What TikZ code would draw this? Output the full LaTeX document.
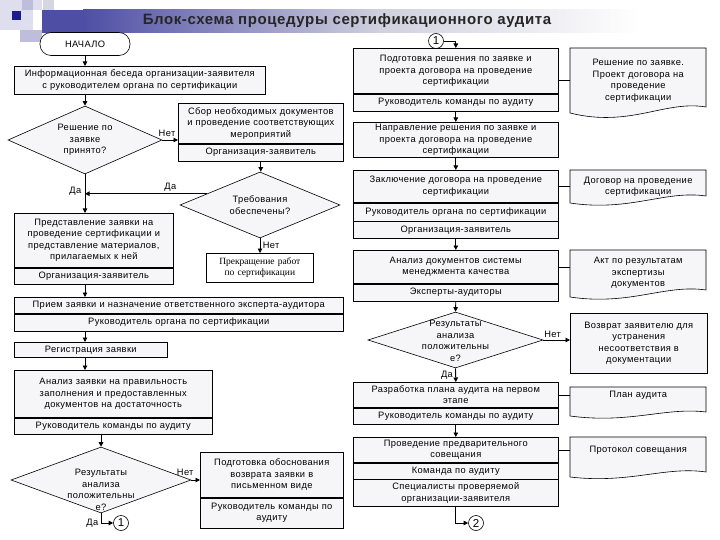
\documentclass[tikz,border=0pt]{standalone}
\usepackage{fontspec}
\setmainfont{Liberation Sans}[LetterSpace=4]
\newfontfamily\stopfont{Liberation Serif}
\usetikzlibrary{positioning,shapes.geometric,arrows.meta}

\definecolor{boxfill}{RGB}{246,246,248}
\definecolor{bandblue}{RGB}{78,78,165}
\definecolor{bandgrey}{RGB}{208,208,222}
\definecolor{decolight}{RGB}{222,222,238}
\definecolor{decomid}{RGB}{190,190,220}
\definecolor{decogrey}{RGB}{214,214,226}
\definecolor{decodark}{RGB}{28,28,140}

\tikzset{
  every node/.style={font=\fontsize{9.3}{11.5}\selectfont},
  box/.style={draw, fill=boxfill, line width=0.6pt, align=center, inner xsep=2pt, inner ysep=1pt, anchor=north west},
  role/.style={draw, fill=boxfill, line width=0.6pt, align=center, inner xsep=2pt, inner ysep=1pt},
  startbox/.style={draw, fill=white, line width=0.6pt, rounded corners=11pt, minimum width=90pt, minimum height=23pt},
  decision/.style={diamond, draw, fill=boxfill, line width=0.6pt, align=center, inner sep=0pt, aspect=2.3},
  dtext/.style={align=center, inner sep=0pt},
  connector/.style={circle, draw, fill=white, line width=0.6pt, inner sep=0pt, minimum size=15pt, font=\fontsize{11.5}{12}\selectfont},
  doctext/.style={align=center, inner sep=0pt, anchor=north west, minimum width=136pt},
  docshape/.style={draw, fill=boxfill, line width=0.6pt},
  divider/.style={line width=1.8pt},
  arr/.style={line width=0.9pt, -{Triangle[length=4.5pt,width=4.5pt]}},
  link/.style={line width=0.6pt},
}

\begin{document}
\begin{tikzpicture}[x=1pt, y=-1pt]
\useasboundingbox[fill=white] (0,0) rectangle (720,540);

\fill[decolight] (0,0) rectangle (42,10);
\fill[decomid] (22,0) rectangle (33,10);
\fill[decogrey] (43,0) rectangle (54,10);
\fill[decolight] (0,10) rectangle (33,30);
\fill[decodark] (12,11) rectangle (21,20);
\fill[decomid] (20,30) rectangle (42,42);
\fill[bandblue] (42,10) rectangle (83,33);
\shade[left color=bandblue, right color=bandgrey] (83,10) rectangle (380,33);
\shade[left color=bandgrey, right color=white] (380,10) rectangle (640,33);
\node[font=\fontsize{15}{17}\selectfont\bfseries, text=black!85] (title) at (347,21) {Блок-схема процедуры сертификационного аудита};

\coordinate (spine) at (85,0);

\node[startbox] (start) at (85,44) {НАЧАЛО};
\node[box, text width=247pt, minimum height=28pt] (info) at (14,66) {Информационная беседа организации-заявителя\\с руководителем органа по сертификации};
\node[decision, minimum width=154pt, minimum height=68pt] (d1) at (85,140) {Решение по\\заявке\\принято?};
\node[box, text width=161pt, minimum height=40pt] (collect) at (178,103) {Сбор необходимых документов\\и проведение соответствующих\\мероприятий};
\node[role, text width=161pt, minimum height=17pt, below=0pt of collect] (collectrole) {Организация-заявитель};
\node[decision, minimum width=160pt, minimum height=66pt] (d2) at (260,205) {Требования\\обеспечены?};
\node[box, text width=155pt, minimum height=54pt] (submit) at (14,213) {Представление заявки на\\проведение сертификации и\\представление материалов,\\прилагаемых к ней};
\node[role, text width=155pt, minimum height=16pt, below=0pt of submit] (submitrole) {Организация-заявитель};
\node[box, fill=white, text width=103pt, minimum height=29pt, font=\stopfont\fontsize{9.5}{11}\selectfont] (stop) at (206,253) {Прекращение работ\\по сертификации};
\node[box, text width=325pt, minimum height=16pt] (accept) at (14,297) {Прием заявки и назначение ответственного эксперта-аудитора};
\node[role, text width=325pt, minimum height=17pt, below=0pt of accept] (acceptrole) {Руководитель органа по сертификации};
\node[box, text width=149pt, minimum height=15pt] (reg) at (14,342) {Регистрация заявки};
\node[box, text width=194pt, minimum height=47pt] (check) at (14,370) {Анализ заявки на правильность\\заполнения и предоставленных\\документов на достаточность};
\node[role, text width=194pt, minimum height=16pt, below=0pt of check] (checkrole) {Руководитель команды по аудиту};
\node[decision, minimum width=180pt, minimum height=66pt] (d3) at (101,480) {};
\node[dtext] (d3text) at (101,490) {Результаты\\анализа\\положительны\\е?};
\node[box, text width=139pt, minimum height=45pt] (reject) at (200,452) {Подготовка обоснования\\возврата заявки в\\письменном виде};
\node[role, text width=139pt, minimum height=30pt, below=0pt of reject] (rejectrole) {Руководитель команды по\\аудиту};
\node[connector] (c1) at (121,523) {1};

\node[connector] (c1top) at (436,41) {1};
\node[box, text width=201pt, minimum height=45pt] (prep) at (353,48) {Подготовка решения по заявке и\\проекта договора на проведение\\сертификации};
\node[role, text width=201pt, minimum height=17pt, below=0pt of prep] (preprole) {Руководитель команды по аудиту};
\node[box, text width=201pt, minimum height=35pt] (send) at (353,122) {Направление решения по заявке и\\проекта договора на проведение\\сертификации};
\node[box, text width=201pt, minimum height=32pt] (contract) at (353,170) {Заключение договора на проведение\\сертификации};
\node[role, text width=201pt, minimum height=18pt, below=0pt of contract] (contractr1) {Руководитель органа по сертификации};
\node[role, text width=201pt, minimum height=17pt, below=0pt of contractr1] (contractr2) {Организация-заявитель};
\node[box, text width=201pt, minimum height=33pt] (analyse) at (353,250) {Анализ документов системы\\менеджмента качества};
\node[role, text width=201pt, minimum height=17pt, below=0pt of analyse] (analyserole) {Эксперты-аудиторы};
\node[decision, minimum width=175pt, minimum height=56pt] (d4) at (455.5,340) {};
\node[dtext] (d4text) at (455.5,341) {Результаты\\анализа\\положительны\\е?};
\node[box, text width=133pt, minimum height=60pt] (returnbox) at (570,313) {Возврат заявителю для\\устранения\\несоответствия в\\документации};
\node[box, text width=201pt, minimum height=25pt] (plan) at (353,382) {Разработка плана аудита на первом\\этапе};
\node[role, text width=201pt, minimum height=16pt, below=0pt of plan] (planrole) {Руководитель команды по аудиту};
\node[box, text width=201pt, minimum height=25pt] (meet) at (353,437) {Проведение предварительного\\совещания};
\node[role, text width=201pt, minimum height=16pt, below=0pt of meet] (meetr1) {Команда по аудиту};
\node[role, text width=201pt, minimum height=27pt, below=0pt of meetr1] (meetr2) {Специалисты проверяемой\\организации-заявителя};
\node[connector] (c2) at (476,523) {2};

\draw[docshape] (570,48) -- (706,48) -- (706,107) .. controls (665,100) and (630,128) .. (570,113) -- cycle;
\draw[docshape] (570,170) -- (706,170) -- (706,196) .. controls (665,190) and (630,212) .. (570,203) -- cycle;
\draw[docshape] (570,250) -- (706,250) -- (706,290) .. controls (665,284) and (630,306) .. (570,297) -- cycle;
\draw[docshape] (570,387) -- (706,387) -- (706,412) .. controls (665,407) and (630,424) .. (570,416) -- cycle;
\draw[docshape] (570,437) -- (706,437) -- (706,472) .. controls (665,466) and (630,484) .. (570,477) -- cycle;
\node[doctext, minimum height=65pt] (doc1) at (570,48) {Решение по заявке.\\Проект договора на\\проведение\\сертификации};
\node[doctext, minimum height=33pt] (doc2) at (570,170) {Договор на проведение\\сертификации};
\node[doctext, minimum height=46pt] (doc3) at (570,250) {Акт по результатам\\экспертизы\\документов};
\node[doctext, minimum height=16pt] (doc4) at (570,387) {План аудита};
\node[doctext, minimum height=26pt] (doc5) at (570,437) {Протокол совещания};

\draw[divider] (check.south west) -- (check.south east);
\draw[divider] (analyse.south west) -- (analyse.south east);

\draw[arr] (start.south) -- (start.south |- info.north);
\draw[arr] (spine |- info.south) -- (d1.north);
\draw[arr] (d1.south) -- (d1.south |- submit.north) node[pos=0.45, left] {Да};
\draw[arr] (d1.east) -- (d1.east -| collect.west) node[pos=0.3, above] {Нет};
\draw[arr] (collectrole.south) -- (collectrole.south |- d2.north);
\draw[arr] (d2.168) -- (d2.168 -| spine) node[pos=0.3, above=-1pt] {Да};
\draw[arr] (d2.south) -- (d2.south |- stop.north) node[midway, right=-1pt] {Нет};
\draw[arr] (spine |- submitrole.south) -- (spine |- accept.north);
\draw[arr] (spine |- acceptrole.south) -- (spine |- reg.north);
\draw[arr] (spine |- reg.south) -- (spine |- check.north);
\draw[arr] (d3.north |- checkrole.south) -- (d3.north);
\draw[arr] (d3.east) -- (d3.east -| reject.west) node[pos=0, above left=1pt and -6pt] {Нет};
\draw[arr] (d3.south) |- (c1.west) node[pos=0.5, left=-1pt] {Да};

\draw[arr] (c1top.east) -| (prep.north);
\draw[arr] (preprole.south) -- (send.north);
\draw[arr] (send.south) -- (contract.north);
\draw[arr] (contractr2.south) -- (analyse.north);
\draw[arr] (analyserole.south) -- (d4.north);
\draw[arr] (d4.east) -- (d4.east -| returnbox.west) node[pos=0.35, above=-1pt] {Нет};
\draw[arr] (d4.south) -- (plan.north) node[pos=0.5, left=-1pt] {Да};
\draw[arr] (planrole.south) -- (meet.north);
\draw[arr] (meetr2.south) |- (c2.west);

\draw[link] (doc1.west) -- (doc1.west -| prep.east);
\draw[link] (contract.east) -- (contract.east -| doc2.west);
\draw[link] (analyse.east) -- (analyse.east -| doc3.west);
\draw[link] (plan.east) -- (plan.east -| doc4.west);
\draw[link] (meet.east) -- (meet.east -| doc5.west);
\end{tikzpicture}
\end{document}
